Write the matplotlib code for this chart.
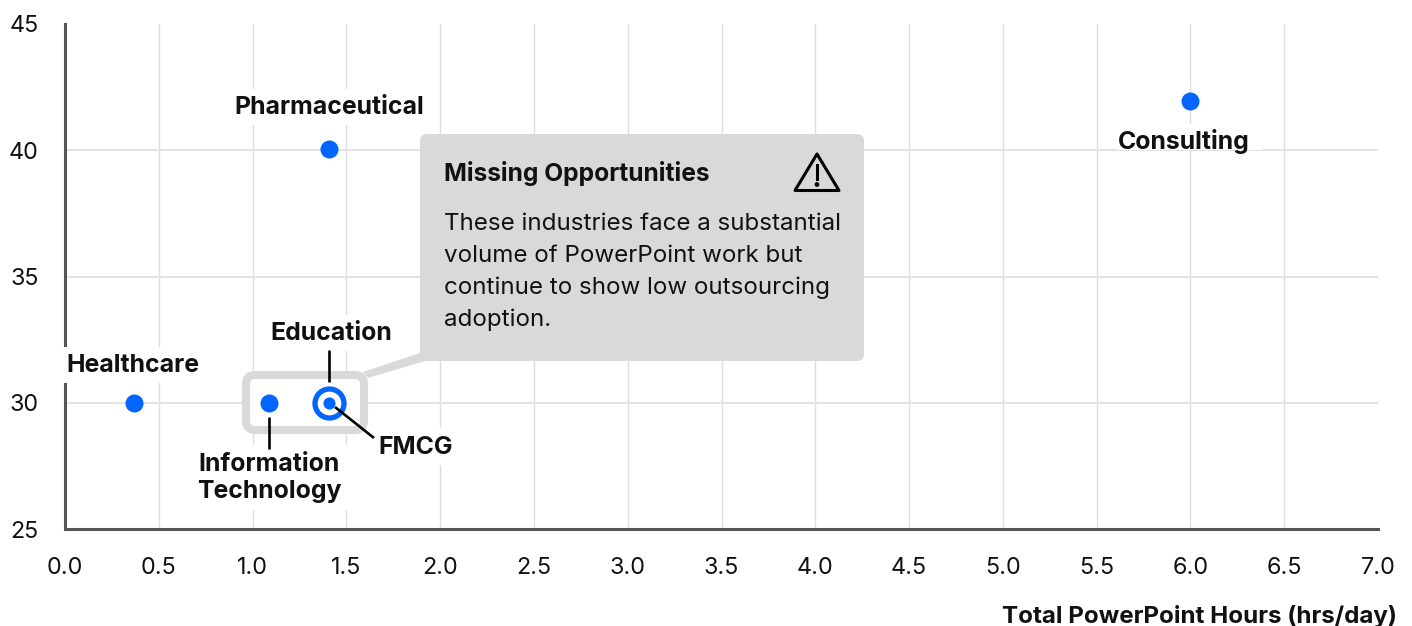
import matplotlib
matplotlib.use('Agg')
import matplotlib.pyplot as plt
from matplotlib.patches import FancyBboxPatch, Polygon, Circle, Rectangle
from matplotlib.transforms import Affine2D

plt.rcParams['font.family'] = ['Inter', 'DejaVu Sans']

# data
industries = ['Healthcare', 'Information\nTechnology', 'Pharmaceutical', 'Consulting', 'Education', 'FMCG']
hours = [0.37, 1.09, 1.41, 6.0, 1.41, 1.41]
outsourcing = [30, 30, 40.05, 41.95, 30, 30]
x_ticks = [0, 0.5, 1, 1.5, 2, 2.5, 3, 3.5, 4, 4.5, 5, 5.5, 6, 6.5, 7]
y_ticks = [25, 30, 35, 40, 45]
x_title = 'Total PowerPoint Hours (hrs/day)'
note_title = 'Missing Opportunities'
note_lines = ['These industries face a substantial', 'volume of PowerPoint work but',
              'continue to show low outsourcing', 'adoption.']

BLUE = '#0066FF'
GREY = '#D9D9D9'
INK = '#111111'
W, H = 1412, 626
fig = plt.figure(figsize=(W / 100, H / 100), dpi=100)
ax = fig.add_axes([65 / W, 1 - 529 / H, (1378 - 65) / W, (529 - 24) / H])
ax.set_xlim(0, 7)
ax.set_ylim(25, 45)
ax.set_xticks(x_ticks)
ax.set_xticklabels(['%.1f' % t for t in x_ticks], fontsize=16.8, color=INK)
ax.set_yticks(y_ticks)
ax.set_yticklabels([str(t) for t in y_ticks], fontsize=16.8, color=INK)
ax.tick_params(length=0)
ax.tick_params(axis='x', pad=20.5)
ax.tick_params(axis='y', pad=19)
ax.grid(True, axis='x', color='#DEDEDE', linewidth=1.0)
ax.grid(True, axis='y', color='#E3E3E3', linewidth=1.4)
ax.set_axisbelow(True)
# no gridline on the far edges
ax.get_xgridlines()[-1].set_visible(False)
ax.get_ygridlines()[-1].set_visible(False)
for s in ['top', 'right']:
    ax.spines[s].set_visible(False)
for s in ['left', 'bottom']:
    ax.spines[s].set_color('#555555')
    ax.spines[s].set_linewidth(2.2)

# annotations are placed in image pixels, y going down
px = Affine2D().scale(1, -1).translate(0, H)

# white boxes behind the labels cut the grid and axis
label_boxes = [(60, 347, 142, 36), (193, 445, 157, 65), (228, 89, 203, 36),
               (1118, 124, 144, 26), (265, 315, 132, 36), (375, 428, 82, 37)]
for bx, by, bw, bh in label_boxes:
    ax.add_patch(Rectangle((bx, by), bw, bh, facecolor='white', edgecolor='none',
                           transform=px, clip_on=False, zorder=3))

# highlight frame and callout
ax.add_patch(FancyBboxPatch((246, 375), 118, 55, boxstyle='round,pad=0,rounding_size=9', facecolor='white',
                            edgecolor=GREY, linewidth=5.8, transform=px, clip_on=False, zorder=3.5))
ax.add_patch(Polygon([(363, 372), (420, 353), (425, 361), (368, 378)], facecolor=GREY, edgecolor='none',
                     transform=px, clip_on=False, zorder=3.5))
ax.add_patch(FancyBboxPatch((420, 134), 444, 227, boxstyle='round,pad=0,rounding_size=7',
                            facecolor=GREY, edgecolor='none', transform=px, clip_on=False, zorder=4))

# points
ax.scatter(hours[:4], outsourcing[:4], s=168, color=BLUE, linewidths=0, zorder=5, clip_on=False)
ax.scatter(hours[4], outsourcing[4], s=436, facecolor='white', edgecolor=BLUE, linewidths=3.8, zorder=5)
ax.scatter(hours[5], outsourcing[5], s=76, color=BLUE, linewidths=0, zorder=5.5)

lab = dict(fontsize=17.9, fontweight='bold', color=INK, ha='center', va='center', linespacing=1.26,
           transform=px, zorder=7)
label_pos = [(133, 366), (269, 478), (329, 107), (1184, 141), (331, 334), (416, 447)]
for name, (lx, ly) in zip(industries, label_pos):
    ax.text(lx, ly, name, **lab)

# connector lines
for xs, ys in [((328.5, 328.5), (350, 382)), ((269, 269), (417, 449)), ((335, 374), (407, 438))]:
    ax.plot(xs, ys, color='black', linewidth=1.9, solid_capstyle='butt', transform=px, clip_on=False, zorder=6)

ax.text(444, 174, note_title, fontsize=17.7, fontweight='bold', color=INK, va='center', transform=px, zorder=7)
for i, line in enumerate(note_lines):
    ax.text(444, 224 + i * 32, line, fontsize=17.4, color=INK, va='center', transform=px, zorder=7)

# warning icon
ax.add_patch(Polygon([(817, 154), (839, 190.5), (795, 190.5)], closed=True, facecolor='none', edgecolor='black',
                     linewidth=2.2, joinstyle='round', transform=px, clip_on=False, zorder=7))
ax.plot([817, 817], [165, 179], color='black', linewidth=2.2, transform=px, clip_on=False, zorder=7)
ax.add_patch(Circle((817, 184.5), 1.7, color='black', transform=px, clip_on=False, zorder=7))

ax.text(1397, 616, x_title, fontsize=17.4, fontweight='bold', color=INK, ha='right', va='center', transform=px)

fig.savefig('out.png', dpi=100)
